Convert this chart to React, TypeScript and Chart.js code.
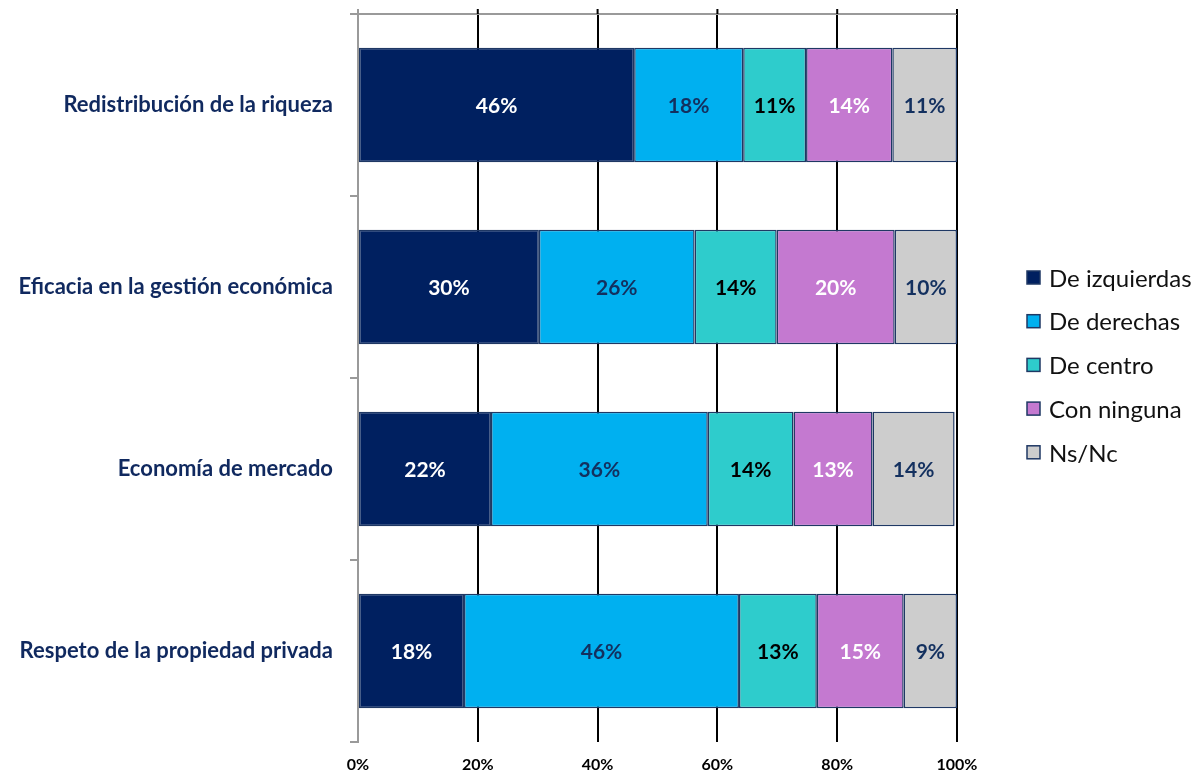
import React, { useEffect, useRef } from "react";
import { Chart, registerables } from "chart.js";

Chart.register(...registerables);

const categories = [
  "Redistribución de la riqueza",
  "Eficacia en la gestión económica",
  "Economía de mercado",
  "Respeto de la propiedad privada",
];
const seriesNames = ["De izquierdas", "De derechas", "De centro", "Con ninguna", "Ns/Nc"];
const izquierdas = [46.1, 30.2, 22.2, 17.7];
const derechas = [18.2, 26.0, 36.2, 45.9];
const centro = [10.5, 13.7, 14.3, 13.0];
const ninguna = [14.4, 19.7, 13.2, 14.5];
const nsnc = [10.8, 10.4, 13.7, 8.9];
const xTicks = [0, 20, 40, 60, 80, 100];

const fills = ["#002060", "#00B0F0", "#2ECCCC", "#C479D0", "#CDCDCD"];
const labelColors = ["#FFFFFF", "#13305F", "#000000", "#FFFFFF", "#13305F"];
const NAVY = "#10295F";
const FONT = "Lato, 'Open Sans', sans-serif";

export default function App() {
  const ref = useRef<HTMLCanvasElement>(null);
  useEffect(() => {
    document.body.style.margin = "0";
    const values = [izquierdas, derechas, centro, ninguna, nsnc];
    const labelsPlugin = {
      id: "segLabels",
      afterDatasetsDraw(chart: any) {
        const ctx = chart.ctx;
        ctx.save();
        ctx.font = `bold 21px ${FONT}`;
        ctx.textAlign = "center";
        ctx.textBaseline = "middle";
        chart.data.datasets.forEach((ds: any, di: number) => {
          const meta = chart.getDatasetMeta(di);
          meta.data.forEach((el: any, i: number) => {
            const v = ds.data[i];
            ctx.fillStyle = labelColors[di];
            ctx.fillText(Math.round(v) + "%", (el.x + el.base) / 2, el.y + 1);
          });
        });
        ctx.restore();
      },
    };
    const decoPlugin = {
      id: "deco",
      afterDraw(chart: any) {
        const ctx = chart.ctx;
        const a = chart.chartArea;
        const xs = chart.scales.x;
        ctx.save();
        ctx.strokeStyle = "#9A9A9A";
        ctx.lineWidth = 2;
        ctx.beginPath();
        ctx.moveTo(a.left, a.top);
        ctx.lineTo(a.right, a.top);
        ctx.stroke();
        ctx.beginPath();
        ctx.moveTo(a.left, a.top - 5);
        ctx.lineTo(a.left, a.top);
        ctx.stroke();
        ctx.strokeStyle = "#000000";
        xTicks.slice(1).forEach((t) => {
          const px = xs.getPixelForValue(t);
          ctx.beginPath();
          ctx.moveTo(px, a.top - 5);
          ctx.lineTo(px, a.top);
          ctx.stroke();
        });
        ctx.textAlign = "left";
        ctx.textBaseline = "middle";
        ctx.font = `24px ${FONT}`;
        seriesNames.forEach((name, i) => {
          const y = 278 + i * 43.7;
          ctx.fillStyle = fills[i];
          ctx.fillRect(1027, y - 7, 13, 13);
          ctx.strokeStyle = "#1F3864";
          ctx.lineWidth = 1.5;
          ctx.strokeRect(1027, y - 7, 13, 13);
          ctx.fillStyle = "#111111";
          ctx.fillText(name, 1049, y + 1);
        });
        ctx.restore();
      },
    };
    const chart = new Chart(ref.current as HTMLCanvasElement, {
      type: "bar",
      data: {
        labels: categories,
        datasets: seriesNames.map((n, i) => ({
          label: n,
          data: values[i],
          backgroundColor: fills[i],
          borderColor: "#1F3864",
          borderWidth: 1.5,
          borderSkipped: false,
          categoryPercentage: 1,
          barPercentage: 0.63,
        })),
      },
      options: {
        indexAxis: "y",
        responsive: false,
        animation: false,
        layout: { padding: { top: 14, right: 240, left: 0, bottom: 0 } },
        plugins: { legend: { display: false }, tooltip: { enabled: false } },
        scales: {
          x: {
            stacked: true,
            min: 0,
            max: 100,
            afterBuildTicks(scale: any) {
              scale.ticks = xTicks.map((v) => ({ value: v }));
            },
            afterFit(scale: any) {
              scale.height = 31;
              scale.paddingLeft = 0;
              scale.paddingRight = 0;
            },
            grid: {
              color: (c: any) => (c.tick && c.tick.value === 0 ? "rgba(0,0,0,0)" : "#000000"),
              lineWidth: 2,
              drawTicks: false,
            },
            border: { display: false },
            ticks: {
              padding: 13,
              color: "#000000",
              font: { family: FONT, size: 16, weight: "bold" },
              callback: (v: any) => v + "%",
            },
          },
          y: {
            stacked: true,
            afterFit(scale: any) {
              scale.width = 358;
              scale.paddingTop = 0;
              scale.paddingBottom = 0;
            },
            grid: {
              drawOnChartArea: false,
              drawTicks: true,
              tickLength: 8,
              color: "#9A9A9A",
              lineWidth: 2,
              offset: true,
            },
            border: { display: true, color: "#9A9A9A", width: 2 },
            ticks: {
              padding: 17,
              color: NAVY,
              font: { family: FONT, size: 22, weight: "bold" },
            },
          },
        },
      },
      plugins: [labelsPlugin, decoPlugin],
    } as any);
    return () => chart.destroy();
  }, []);
  return (
    <div style={{ width: 1197, height: 773 }}>
      <canvas ref={ref} width={1197} height={773} style={{ display: "block" }} />
    </div>
  );
}
